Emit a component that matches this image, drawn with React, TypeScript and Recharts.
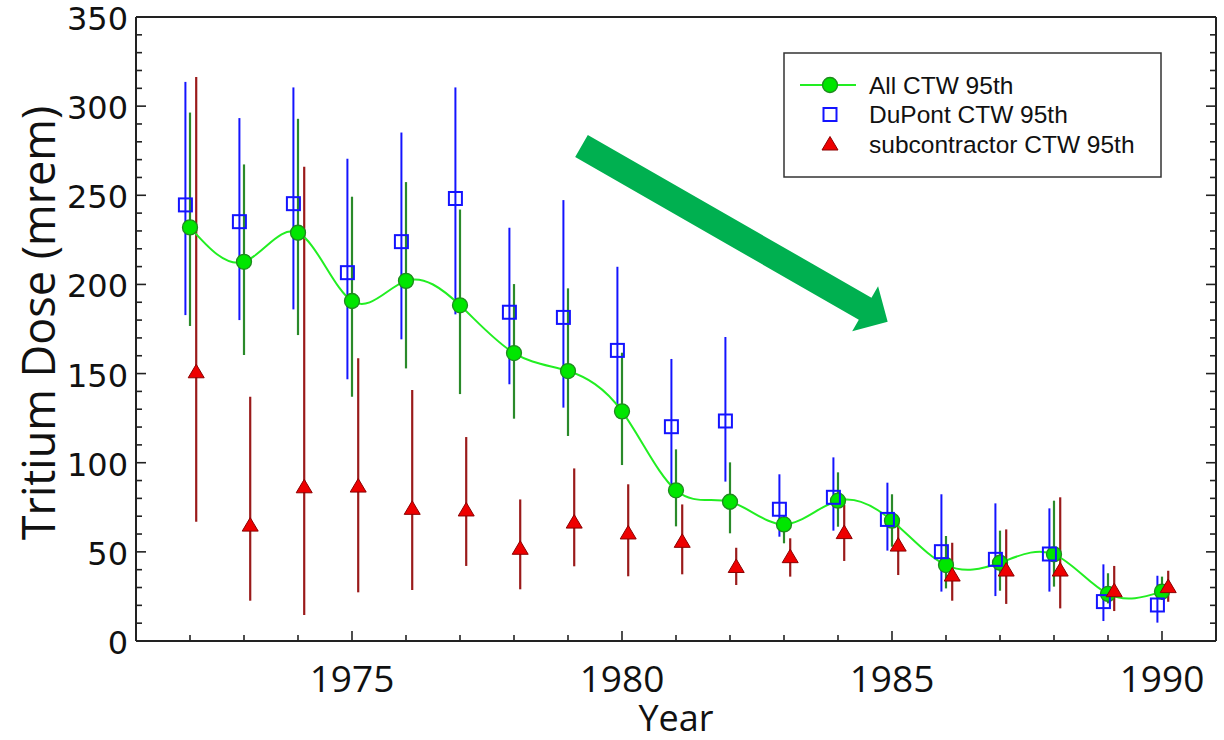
import React from 'react'
import { ScatterChart, Scatter, XAxis, YAxis, ErrorBar, ReferenceLine, Legend, Label } from 'recharts'

const years = [1972, 1973, 1974, 1975, 1976, 1977, 1978, 1979, 1980, 1981, 1982, 1983, 1984, 1985, 1986, 1987, 1988, 1989, 1990]

// All CTW 95th (green)
const allCtw = [232, 212.7, 229, 190.7, 202, 188.3, 161.5, 151.4, 128.8, 84.5, 78.1, 65.4, 78.7, 67.5, 42.6, 43.9, 48.6, 26.4, 27.7]
const allLow = [176.7, 160.4, 171.6, 137, 152.9, 138.5, 124.7, 115, 98.7, 64.3, 60.4, 54.8, 64.1, 52.9, 29.5, 28.2, 30.5, 21.1, 23]
const allHigh = [296.4, 267.3, 292.9, 249.2, 257.4, 242, 200.2, 197.8, 161.7, 107.5, 100.2, 70, 94.6, 82.3, 58.9, 61.9, 78.7, 38, 36.1]

// DuPont CTW 95th (blue)
const dupont = [244.6, 235.2, 245.3, 206.6, 224, 248.2, 184.4, 181.5, 163, 120.2, 123.4, 73.9, 80.6, 68.2, 50.1, 45.8, 48.8, 22.1, 20.2]
const dupontLow = [182.8, 180, 186, 146.8, 169.2, 183.2, 144, 130.9, 127.7, 86.4, 89.4, 58.5, 61.9, 50.7, 27.7, 25.2, 27.7, 11.2, 10.3]
const dupontHigh = [313.6, 293.3, 310.5, 270.5, 285.2, 310.5, 231.8, 247.3, 209.9, 158.2, 170.5, 93.5, 103, 88.8, 82.3, 77.2, 74.4, 43, 36.6]

// subcontractor CTW 95th (red)
const sub = [151, 65, 86.5, 86.9, 74.4, 73.5, 52, 66.7, 60.6, 55.9, 41.8, 47.3, 60.8, 53.8, 37, 39.8, 39.8, 28.2, 30.5]
const subLow = [66.9, 22.6, 14.6, 27.3, 28.6, 42.1, 29, 41.9, 36.3, 37.4, 31.4, 36.1, 44.9, 37, 22.6, 20.8, 18.3, 16.8, 22]
const subHigh = [316.4, 137, 266, 158.6, 140.8, 114.4, 79.4, 96.8, 87.9, 76.6, 52.3, 57.6, 76.3, 67.9, 55.1, 62.6, 80.6, 42.1, 39.4]

const seriesNames = ['All CTW 95th', 'DuPont CTW 95th', 'subcontractor CTW 95th']

const xTicks = [1971, 1972, 1973, 1974, 1975, 1976, 1977, 1978, 1979, 1980, 1981, 1982, 1983, 1984, 1985, 1986, 1987, 1988, 1989, 1990, 1991]
const yTicks = [0, 10, 20, 30, 40, 50, 60, 70, 80, 90, 100, 110, 120, 130, 140, 150, 160, 170, 180, 190, 200, 210, 220, 230, 240, 250, 260, 270, 280, 290, 300, 310, 320, 330, 340, 350]

// arrow annotation, in data coordinates: [year, dose]
const arrowFrom = [1979.25, 277.7]
const arrowTo = [1984.92, 179.1]

const build = (vals: number[], lo: number[], hi: number[], shift: number) =>
  years.map((yr, i) => ({ x: yr + shift, y: vals[i], err: [vals[i] - lo[i], hi[i] - vals[i]] }))

const allData = build(allCtw, allLow, allHigh, 0)
const dupontData = build(dupont, dupontLow, dupontHigh, -0.085)
const subData = build(sub, subLow, subHigh, 0.115)

const AXIS = '#222'
const TICK_FONT = '"Open Sans", sans-serif'

const Circle = ({ cx, cy }: any) => <circle cx={cx} cy={cy} r={7.5} fill="#00e600" stroke="#1f8a1f" strokeWidth={1.3} />
const Square = ({ cx, cy }: any) => <rect x={cx - 6.5} y={cy - 6.5} width={13} height={13} fill="none" stroke="#1414ff" strokeWidth={2} />
const Triangle = ({ cx, cy }: any) => (
  <polygon points={`${cx},${cy - 7.5} ${cx - 8},${cy + 6} ${cx + 8},${cy + 6}`} fill="#ee0000" stroke="#8b0000" strokeWidth={1} />
)

const BottomTick = ({ x, y, payload }: any) => {
  const major = payload.value % 5 === 0
  return (
    <g>
      <line x1={x} y1={y} x2={x} y2={y - (major ? 10 : 6)} stroke={AXIS} strokeWidth={1.6} />
      {major && payload.value < 1991 && (
        <text x={x} y={y + 36} textAnchor="middle" dominantBaseline="central" fontFamily={TICK_FONT} fontSize={37} fill="#111">
          {payload.value}
        </text>
      )}
    </g>
  )
}
const TopTick = ({ x, y, payload }: any) => (
  <line x1={x} y1={y} x2={x} y2={y + (payload.value % 5 === 0 ? 10 : 6)} stroke={AXIS} strokeWidth={1.6} />
)
const LeftTick = ({ x, y, payload }: any) => {
  const major = payload.value % 50 === 0
  return (
    <g>
      <line x1={x} y1={y} x2={x + (major ? 10 : 6)} y2={y} stroke={AXIS} strokeWidth={1.6} />
      {major && (
        <text x={x - 8} y={y + 2} textAnchor="end" dominantBaseline="central" fontFamily='"DejaVu Sans", sans-serif' fontSize={32} fill="#111">
          {payload.value}
        </text>
      )}
    </g>
  )
}
const RightTick = ({ x, y, payload }: any) => (
  <line x1={x} y1={y} x2={x - (payload.value % 50 === 0 ? 10 : 6)} y2={y} stroke={AXIS} strokeWidth={1.6} />
)

const Arrow = ({ x1, y1, x2, y2 }: any) => {
  const len = Math.hypot(x2 - x1, y2 - y1)
  const ux = (x2 - x1) / len
  const uy = (y2 - y1) / len
  const nx = -uy
  const ny = ux
  const sw = 12.7
  const hw = 26
  const hl = 26
  const bx = x2 - ux * hl
  const by = y2 - uy * hl
  const pts = [
    [x1 + nx * sw, y1 + ny * sw],
    [bx + nx * sw, by + ny * sw],
    [bx + nx * hw, by + ny * hw],
    [x2, y2],
    [bx - nx * hw, by - ny * hw],
    [bx - nx * sw, by - ny * sw],
    [x1 - nx * sw, y1 - ny * sw],
  ]
  return <polygon points={pts.map((p) => p.join(',')).join(' ')} fill="#00b050" />
}

const legendMarkers = [
  (cx: number, cy: number) => (
    <g>
      <line x1={cx - 30} y1={cy} x2={cx + 26} y2={cy} stroke="#22ee22" strokeWidth={2} />
      <Circle cx={cx} cy={cy} />
    </g>
  ),
  (cx: number, cy: number) => <Square cx={cx} cy={cy} />,
  (cx: number, cy: number) => <Triangle cx={cx} cy={cy} />,
]

const renderLegend = (props: any) => {
  const items = props.payload ?? []
  return (
    <svg width={380} height={127} style={{ display: 'block' }}>
      <rect x={1} y={1} width={377} height={124} fill="#fff" stroke="#333" strokeWidth={1.5} />
      {items.map((it: any, i: number) => {
        const cy = 33 + i * 29.5
        return (
          <g key={it.value}>
            {legendMarkers[i](47, cy)}
            <text x={86} y={cy} dominantBaseline="central" fontFamily='"Liberation Sans", Arial, sans-serif' fontSize={24.5} fill="#111">
              {it.value}
            </text>
          </g>
        )
      })}
    </svg>
  )
}

export default function App() {
  return (
    <div style={{ position: 'absolute', left: 0, top: 0, width: 1224, height: 740, background: '#fff' }}>
      <ScatterChart width={1224} height={740} margin={{ top: 16, right: 7, bottom: 98, left: 135 }}>
        <XAxis
          type="number"
          dataKey="x"
          domain={[1971, 1991]}
          allowDataOverflow
          ticks={xTicks}
          interval={0}
          height={1}
          tickSize={0}
          tickMargin={0}
          tick={<BottomTick />}
          tickLine={false}
          axisLine={{ stroke: AXIS, strokeWidth: 2 }}
        >
          <Label
            content={() => (
              <text x={676} y={717} textAnchor="middle" dominantBaseline="central" fontFamily={TICK_FONT} fontSize={36} fill="#111">
                Year
              </text>
            )}
          />
        </XAxis>
        <XAxis
          xAxisId="top"
          orientation="top"
          type="number"
          domain={[1971, 1991]}
          allowDataOverflow
          ticks={xTicks}
          interval={0}
          height={1}
          tickSize={0}
          tickMargin={0}
          tick={<TopTick />}
          tickLine={false}
          axisLine={{ stroke: AXIS, strokeWidth: 2 }}
        />
        <YAxis
          type="number"
          dataKey="y"
          domain={[0, 350]}
          allowDataOverflow
          ticks={yTicks}
          interval={0}
          width={1}
          tickSize={0}
          tickMargin={0}
          tick={<LeftTick />}
          tickLine={false}
          axisLine={{ stroke: AXIS, strokeWidth: 2 }}
        >
          <Label
            content={() => (
              <text
                x={37}
                y={323}
                transform="rotate(-90, 37, 323)"
                textAnchor="middle"
                dominantBaseline="central"
                fontFamily={TICK_FONT}
                fontSize={45}
                fill="#111"
              >
                Tritium Dose (mrem)
              </text>
            )}
          />
        </YAxis>
        <YAxis
          yAxisId="right"
          orientation="right"
          type="number"
          domain={[0, 350]}
          allowDataOverflow
          ticks={yTicks}
          interval={0}
          width={1}
          tickSize={0}
          tickMargin={0}
          tick={<RightTick />}
          tickLine={false}
          axisLine={{ stroke: AXIS, strokeWidth: 2 }}
        />
        <ReferenceLine
          segment={[
            { x: arrowFrom[0], y: arrowFrom[1] },
            { x: arrowTo[0], y: arrowTo[1] },
          ]}
          ifOverflow="visible"
          shape={<Arrow />}
        />
        <Scatter
          name={seriesNames[0]}
          data={allData}
          line={{ stroke: '#22ee22', strokeWidth: 2 }}
          lineJointType="natural"
          shape={<Circle />}
          isAnimationActive={false}
        >
          <ErrorBar dataKey="err" direction="y" width={0} stroke="#2a8a2a" strokeWidth={2.2} isAnimationActive={false} />
        </Scatter>
        <Scatter name={seriesNames[1]} data={dupontData} shape={<Square />} isAnimationActive={false}>
          <ErrorBar dataKey="err" direction="y" width={0} stroke="#1414ff" strokeWidth={2} isAnimationActive={false} />
        </Scatter>
        <Scatter name={seriesNames[2]} data={subData} shape={<Triangle />} isAnimationActive={false}>
          <ErrorBar dataKey="err" direction="y" width={0} stroke="#9a1a1a" strokeWidth={2.2} isAnimationActive={false} />
        </Scatter>
        <Legend
          layout="horizontal"
          verticalAlign="middle"
          align="center"
          content={renderLegend}
          wrapperStyle={{ position: 'absolute', left: 783, top: 52, width: 380, height: 127 }}
        />
      </ScatterChart>
    </div>
  )
}
